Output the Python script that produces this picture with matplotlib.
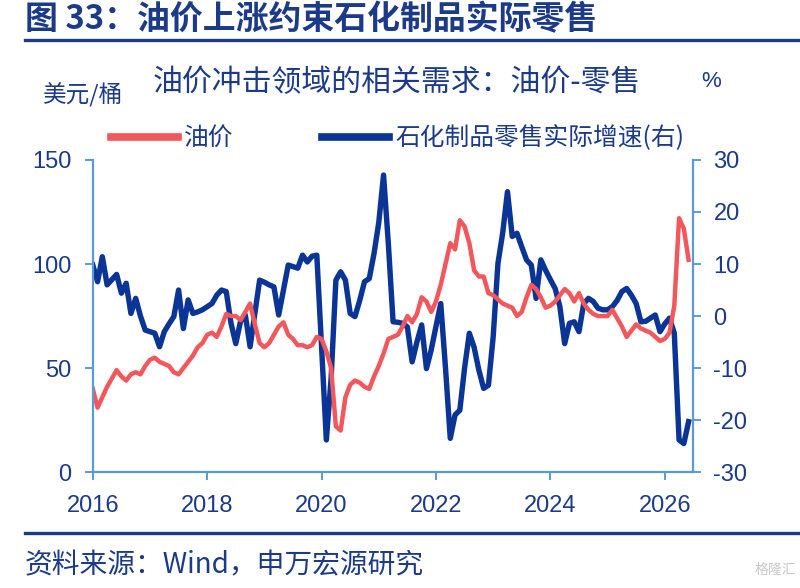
import matplotlib
matplotlib.use("Agg")
import matplotlib.pyplot as plt
from matplotlib.lines import Line2D
import numpy as np

plt.rcParams["axes.unicode_minus"] = False

# ---------------- data (monthly, Jan 2016 - Jun 2026) ----------------
start_year = 2016
oil = [
    # 2016
    40, 31, 36, 41, 45, 49, 46, 44, 47, 48, 47, 51,
    # 2017
    54, 55, 53, 52, 51, 48, 47, 50, 53, 56, 60, 62,
    # 2018
    66, 67, 65, 70, 76, 75, 75, 73, 77, 81, 71, 62,
    # 2019
    60, 62, 66, 70, 72, 66, 64, 61, 61, 60, 61, 65,
    # 2020
    64, 58, 50, 22, 20, 36, 42, 44, 43, 41, 40, 46,
    # 2021
    51, 57, 64, 65, 66, 70, 75, 72, 76, 84, 82, 77,
    # 2022
    82, 90, 100, 110, 107, 121, 118, 110, 97, 94, 94, 86,
    # 2023
    85, 83, 81, 80, 79, 75, 77, 84, 90, 88, 84, 79,
    # 2024
    80, 82, 85, 88, 86, 82, 86, 81, 78, 76, 75, 75,
    # 2025
    75, 78, 74, 70, 65, 68, 71, 69, 68, 67, 65, 63,
    # 2026
    64, 67, 80, 122, 117, 102,
]
retail = [
    # 2016
    9.8, 6.6, 11.4, 6.0, 7.0, 8.0, 4.4, 6.3, 0.5, 3.4, 0.0, -2.7,
    # 2017
    -3.0, -3.3, -5.9, -3.0, -1.5, -0.1, 5.0, -2.4, 3.1, 0.5, 0.8, 1.2,
    # 2018
    1.8, 2.4, 4.0, 5.0, 4.7, -1.4, -5.3, -1.0, 0.2, -5.9, 0.5, 6.9,
    # 2019
    6.5, 6.0, 5.6, 0.2, 5.0, 9.8, 9.5, 9.2, 11.7, 10.4, 11.5, 11.7,
    # 2020
    -6.0, -23.8, -12.0, 6.9, 8.5, 6.9, 0.5, -0.1, 3.0, 6.6, 7.2, 12.0,
    # 2021
    18.0, 27.1, 14.0, -1.1, -1.2, -1.4, -2.1, -8.8, -5.0, -1.7, -10.1, -6.5,
    # 2022
    -2.0, 2.4, -10.0, -23.5, -19.0, -18.1, -10.0, -3.3, -6.0, -10.4, -13.9, -13.3,
    # 2023
    -4.0, 10.1, 16.0, 23.9, 15.3, 15.9, 13.3, 10.8, 9.8, 3.4, 10.8, 8.8,
    # 2024
    7.0, 5.3, 1.8, -5.3, -1.4, -1.1, -3.0, 2.4, 3.4, 2.8, 1.5, 1.2,
    # 2025
    1.2, 1.8, 3.0, 4.7, 5.3, 4.0, 2.4, -1.1, -1.0, -0.4, 0.2, -3.0,
    # 2026
    -1.5, -0.4, -3.3, -23.8, -24.5, -20.3,
]
year_ticks = [2016, 2018, 2020, 2022, 2024, 2026]
left_ticks = [0, 50, 100, 150]
right_ticks = [-30, -20, -10, 0, 10, 20, 30]

title = "图 33：油价上涨约束石化制品实际零售"
subtitle = "油价冲击领域的相关需求：油价-零售"
left_unit = "美元/桶"
right_unit = "%"
label_oil = "油价"
label_retail = "石化制品零售实际增速(右)"
source = "资料来源：Wind，申万宏源研究"

# ---------------- style ----------------
CJK = ["Noto Sans CJK SC", "DejaVu Sans"]
NUM = ["Liberation Sans", "DejaVu Sans"]
TXT = "#1B3A8A"
RED = "#F2575B"
BLUE = "#0A3597"
AX = "#5B9BD5"

x = start_year + np.arange(len(oil)) / 12.0

fig = plt.figure(figsize=(8.0, 5.88), dpi=100)
ax = fig.add_axes([0.116, 0.197, 0.7507, 0.531])
ax2 = ax.twinx()

l1, = ax.plot(x, oil, color=RED, lw=3.2, solid_joinstyle="round", zorder=2)
l2, = ax2.plot(x, retail, color=BLUE, lw=3.9, solid_joinstyle="round", zorder=3)

ax.set_xlim(2016, 2016 + 126 / 12.0)
ax.set_ylim(0, 150)
ax2.set_ylim(-30, 30)
ax.set_xticks(year_ticks)
ax.set_yticks(left_ticks)
ax2.set_yticks(right_ticks)

for a in (ax, ax2):
    for s in a.spines.values():
        s.set_color(AX)
        s.set_linewidth(1.6)
    a.spines["top"].set_visible(False)
    a.tick_params(colors=AX, length=5.5, width=1.4, labelcolor=TXT, labelsize=17)
    for lab in a.get_xticklabels() + a.get_yticklabels():
        lab.set_family(NUM)
ax.spines["right"].set_visible(False)
ax2.spines["left"].set_visible(False)
ax2.spines["bottom"].set_visible(False)
ax.tick_params(axis="x", pad=11)
ax.tick_params(axis="y", pad=10)
ax2.tick_params(axis="y", pad=9)
ax.set_zorder(ax2.get_zorder() + 1)
ax.patch.set_visible(False)

# ---------------- texts ----------------
fig.text(0.031, 0.967, title, family=CJK, fontsize=23.7, fontweight="bold",
         color=TXT, ha="left", va="center")
fig.add_artist(Line2D([0.031, 1.0], [0.932, 0.932], color=TXT, lw=2.4))
fig.text(0.496, 0.860, subtitle, family=CJK, fontsize=21.5, color=TXT,
         ha="center", va="center")
fig.text(0.054, 0.838, left_unit, family=CJK, fontsize=17, color=TXT,
         ha="left", va="center")
fig.text(0.889, 0.861, right_unit, family=NUM, fontsize=16, color=TXT,
         ha="center", va="center")

leg = fig.legend([l1, l2], [label_oil, label_retail], loc="center",
                 bbox_to_anchor=(0.497, 0.765), ncol=2, frameon=False,
                 handlelength=2.7, handletextpad=0.25, columnspacing=3.6,
                 prop={"family": CJK, "size": 17.8})
for t in leg.get_texts():
    t.set_color(TXT)
for h in leg.legend_handles:
    h.set_linewidth(5.5)

fig.add_artist(Line2D([0.031, 1.0], [0.094, 0.094], color=TXT, lw=2.4))
fig.text(0.031, 0.039, source, family=CJK, fontsize=20, color=TXT,
         ha="left", va="center")
fig.text(0.995, 0.03, "格隆汇", family=CJK, fontsize=10, color="#C8C8C8",
         ha="right", va="center")

fig.savefig("out.png", dpi=100)
